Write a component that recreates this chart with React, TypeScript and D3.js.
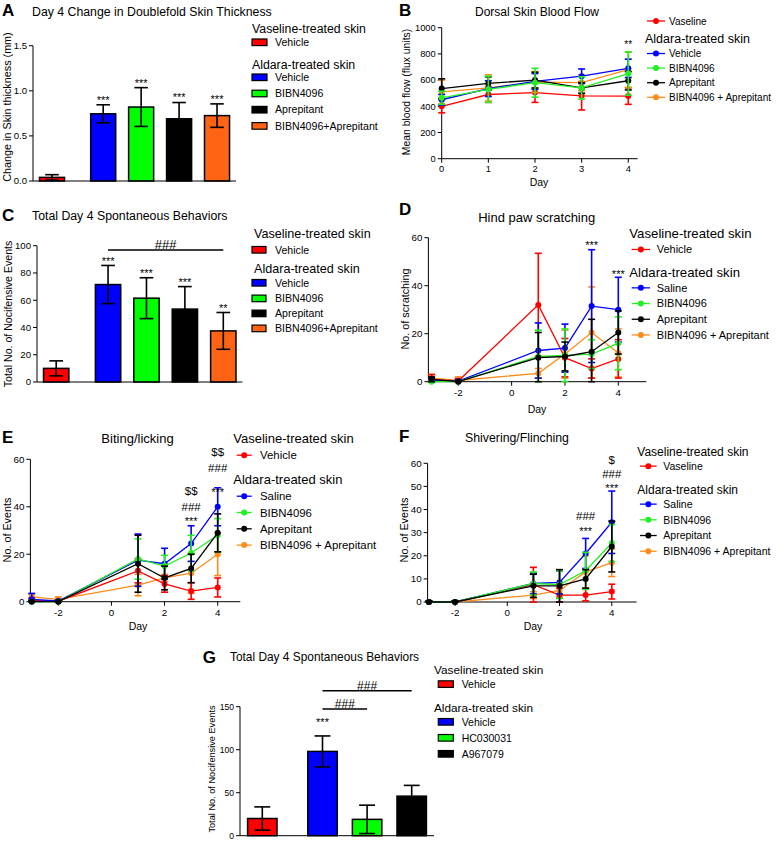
import React from "react";
import * as d3 from "d3";

const FONT = "'Liberation Sans', Arial, Helvetica, sans-serif";

// ---------- colours ----------
const barColors = ["#ff0000", "#0000ff", "#00ff00", "#000000", "#ff6414"];
const lineColors = ["#ff0000", "#0000ff", "#22f022", "#000000", "#ff8c1a"];

// ---------- legend texts ----------
const legendHeaders = ["Vaseline-treated skin", "Aldara-treated skin"];
const legendItemsAC = ["Vehicle", "BIBN4096", "Aprepitant", "BIBN4096+Aprepitant"];
const legendItemsB = ["Vehicle", "BIBN4096", "Aprepitant", "BIBN4096 + Aprepitant"];
const legendItemsDEF = ["Saline", "BIBN4096", "Aprepitant", "BIBN4096 + Aprepitant"];
const legendItemsG = ["Vehicle", "HC030031", "A967079"];

// ---------- Panel A ----------
const thicknessMean = [0.04, 0.745, 0.82, 0.69, 0.725];
const thicknessErr = [0.03, 0.1, 0.215, 0.18, 0.13];
const thicknessSig = ["", "***", "***", "***", "***"];
const ticksA = [0, 0.5, 1.0, 1.5];

// ---------- Panel B ----------
const flowDays = [0, 1, 2, 3, 4];
const flowVaseline = [400, 490, 505, 480, 478];
const flowVaselineErr = [50, 60, 75, 108, 63];
const flowVehicle = [450, 535, 590, 630, 690];
const flowVehicleErr = [40, 60, 60, 55, 70];
const flowBIBN = [465, 530, 580, 540, 650];
const flowBIBNErr = [50, 100, 110, 85, 165];
const flowAprep = [535, 575, 600, 540, 595];
const flowAprepErr = [75, 50, 60, 40, 70];
const flowCombo = [510, 540, 585, 580, 680];
const flowComboErr = [90, 100, 80, 60, 135];
const ticksBy = [0, 200, 400, 600, 800, 1000];
const ticksBx = [0, 1, 2, 3, 4];

// ---------- Panel C ----------
const totalMeanC = [10, 71.5, 61.5, 53.5, 37.5];
const totalErrC = [5.5, 14, 15, 16.5, 13.5];
const totalSigC = ["", "***", "***", "***", "**"];
const ticksC = [0, 20, 40, 60, 80, 100];

// ---------- D / E / F shared ----------
const behaviorDays = [-3, -2, 1, 2, 3, 4];
const ticksDayX = [-2, 0, 2, 4];

// Panel D: hind paw scratching
const scratchVehicle = [1, 0.3, 32, 10, 5.5, 9.5];
const scratchVehicleErr = [2, 1, 21.5, 8, 4, 8];
const scratchSaline = [0.5, 0.2, 13, 14, 31.5, 30];
const scratchSalineErr = [1, 0.5, 11.5, 10, 23.5, 13.5];
const scratchBIBN = [0, 0, 10.5, 11, 11.5, 16];
const scratchBIBNErr = [0.5, 0.3, 11, 11, 6, 11];
const scratchAprep = [1, 0, 10, 10.5, 12.5, 20.5];
const scratchAprepErr = [1, 0.5, 10.5, 6, 13.5, 9];
const scratchCombo = [1.5, 0.5, 3.5, 11.5, 20.5, 12];
const scratchComboErr = [1.5, 1.5, 2, 10, 19, 10];
const ticksD = [0, 20, 40, 60];

// Panel E: biting / licking
const biteVehicle = [0.5, 0.2, 13, 7.5, 4.5, 6];
const biteVehicleErr = [1, 0.5, 5, 3.5, 3.5, 4];
const biteSaline = [1, 0.3, 17.5, 16, 24.5, 40];
const biteSalineErr = [2.5, 0.5, 11, 6.5, 7.5, 8];
const biteBIBN = [0, 0, 18, 15, 20.5, 28];
const biteBIBNErr = [0.5, 0.5, 8.5, 4.5, 7.5, 7];
const biteAprep = [0, 0, 16, 10, 14, 29];
const biteAprepErr = [0.5, 0.5, 12, 5, 6, 8];
const biteCombo = [2, 1, 7, 10, 12, 20];
const biteComboErr = [1, 1, 4.5, 1.5, 8.5, 9];
const ticksE = [0, 20, 40, 60];

// Panel F: shivering / flinching
const shiverVaseline = [0, 0, 7.5, 3, 3, 4.5];
const shiverVaselineErr = [0.5, 0.5, 7.5, 3, 2.5, 3.2];
const shiverSaline = [0, 0, 8, 8.5, 21, 34.5];
const shiverSalineErr = [0.5, 0.5, 4.5, 5, 6.5, 13.5];
const shiverBIBN = [0, 0, 8, 7.5, 13.5, 25.5];
const shiverBIBNErr = [0.5, 0.5, 5, 6, 8, 8];
const shiverAprep = [0, 0, 7, 7, 10, 24];
const shiverAprepErr = [0.5, 0.5, 5, 7, 4, 11];
const shiverCombo = [0, 0, 3, 5, 13, 17];
const shiverComboErr = [0.5, 0.5, 1.5, 3, 7, 6];
const ticksF = [0, 10, 20, 30, 40, 50, 60];

// ---------- Panel G ----------
const totalMeanG = [20, 98, 19, 46];
const totalErrG = [13.5, 18, 16.5, 12.5];
const totalSigG = ["", "***", "", ""];
const ticksG = [0, 50, 100, 150];

// ================= helpers =================
type Note = { day: number; value: number; text: string; fs: number };

function noteBaseline(cy: number, text: string, fs: number) {
  return cy + (text.includes("*") ? 0.58 : 0.36) * fs;
}

function YAxis({ scale, x, ticks, fmt, fontSize }: any) {
  const [r0, r1] = scale.range();
  return (
    <g>
      <line x1={x} x2={x} y1={r0} y2={r1} stroke="#000" strokeWidth={1} />
      {ticks.map((t: number) => (
        <g key={t}>
          <line x1={x - 4} x2={x} y1={scale(t)} y2={scale(t)} stroke="#000" strokeWidth={1} />
          <text x={x - 6} y={scale(t)} dy="0.35em" textAnchor="end" fontSize={fontSize}>
            {fmt(t)}
          </text>
        </g>
      ))}
    </g>
  );
}

function XAxis({ scale, y, ticks, fontSize, labelGap }: any) {
  const [r0, r1] = scale.range();
  return (
    <g>
      <line x1={r0} x2={r1} y1={y} y2={y} stroke="#000" strokeWidth={1} />
      {ticks.map((t: number) => (
        <g key={t}>
          <line x1={scale(t)} x2={scale(t)} y1={y} y2={y + 4} stroke="#000" strokeWidth={1} />
          <text x={scale(t)} y={y + labelGap} textAnchor="middle" fontSize={fontSize}>
            {t}
          </text>
        </g>
      ))}
    </g>
  );
}

function RotLabel({ x, y, text, fs }: any) {
  return (
    <text transform={`translate(${x},${y}) rotate(-90)`} textAnchor="middle" fontSize={fs}>
      {text}
    </text>
  );
}

type Row = { kind: "header" | "item"; label: string; color?: string };

function Legend({ rows, ys, headerX, m0, m1, textX, hf, itf, mark }: any) {
  return (
    <g>
      {rows.map((r: Row, i: number) => {
        const yb = ys[i];
        if (r.kind === "header")
          return (
            <text key={i} x={headerX} y={yb} fontSize={hf}>
              {r.label}
            </text>
          );
        const cy = yb - itf * 0.35;
        return (
          <g key={i}>
            {mark === "box" ? (
              <rect x={m0} y={cy - 3.3} width={m1 - m0} height={6.6} fill={r.color} stroke="#000" strokeWidth={1.2} />
            ) : (
              <g>
                <line x1={m0} x2={m1} y1={cy} y2={cy} stroke={r.color} strokeWidth={1.3} />
                <circle cx={(m0 + m1) / 2} cy={cy} r={3} fill={r.color} />
              </g>
            )}
            <text x={textX} y={yb} fontSize={itf}>
              {r.label}
            </text>
          </g>
        );
      })}
    </g>
  );
}

function makeRows(first: string | null, firstItem: string, items: string[], colors: string[]): Row[] {
  const rows: Row[] = [];
  if (first) rows.push({ kind: "header", label: first });
  rows.push({ kind: "item", label: firstItem, color: colors[0] });
  rows.push({ kind: "header", label: legendHeaders[1] });
  items.forEach((it, i) => rows.push({ kind: "item", label: it, color: colors[i + 1] }));
  return rows;
}

function BarPanel({ means, errs, sigs, colors, x0, x1, yBottom, yTop, yMax, ticks, fmt, tickFont, starGap, sigBars }: any) {
  const gap = 0.35;
  const n = means.length;
  const slot = (i: number) => (i === 0 ? 0 : i + gap);
  const x = d3.scaleLinear().domain([-0.5, n - 1 + gap + 0.5]).range([x0, x1]);
  const y = d3.scaleLinear().domain([0, yMax]).range([yBottom, yTop]);
  const step = x(1) - x(0);
  const bw = step * 0.66;
  const cap = bw * 0.27;
  return (
    <g>
      {means.map((m: number, i: number) => {
        const cx = x(slot(i));
        const hi = y(m + errs[i]);
        const lo = y(Math.max(0, m - errs[i]));
        return (
          <g key={i}>
            <rect x={cx - bw / 2} y={y(m)} width={bw} height={y(0) - y(m)} fill={colors[i]} stroke="#000" strokeWidth={1.5} />
            <line x1={cx} x2={cx} y1={hi} y2={lo} stroke="#000" strokeWidth={1.6} />
            <line x1={cx - cap} x2={cx + cap} y1={hi} y2={hi} stroke="#000" strokeWidth={1.6} />
            <line x1={cx - cap} x2={cx + cap} y1={lo} y2={lo} stroke="#000" strokeWidth={1.6} />
            {sigs[i] && (
              <text x={cx} y={noteBaseline(hi - starGap, sigs[i], 11)} textAnchor="middle" fontSize={11}>
                {sigs[i]}
              </text>
            )}
          </g>
        );
      })}
      {(sigBars || []).map((b: any, k: number) => {
        const xa = x(slot(b.from));
        const xb = x(slot(b.to));
        const yy = y(b.level);
        return (
          <g key={"s" + k}>
            <line x1={xa} x2={xb} y1={yy} y2={yy} stroke="#000" strokeWidth={1.6} />
            <text x={(xa + xb) / 2} y={noteBaseline(yy - b.lift, b.label, b.fs)} textAnchor="middle" fontSize={b.fs}>
              {b.label}
            </text>
          </g>
        );
      })}
      <line x1={x0} x2={x1} y1={y(0)} y2={y(0)} stroke="#000" strokeWidth={1} />
      <YAxis scale={y} x={x0} ticks={ticks} fmt={fmt} fontSize={tickFont} />
    </g>
  );
}

type Series = { color: string; mean: number[]; err: number[] };

function LinePanel({ days, series, order, xDomain, xRange, yMax, yRange, xTicks, yTicks, tickFont, labelGap, notes }: any) {
  const x = d3.scaleLinear().domain(xDomain).range(xRange);
  const y = d3.scaleLinear().domain([0, yMax]).range(yRange);
  const cap = 3.5;
  return (
    <g>
      <XAxis scale={x} y={y(0)} ticks={xTicks} fontSize={tickFont} labelGap={labelGap} />
      <YAxis scale={y} x={xRange[0]} ticks={yTicks} fmt={(t: number) => String(t)} fontSize={tickFont} />
      {order.map((si: number) => {
        const s: Series = series[si];
        const path = d3
          .line<number>()
          .x((_, i) => x(days[i]))
          .y((v) => y(v))(s.mean);
        return (
          <g key={si}>
            <path d={path || ""} fill="none" stroke={s.color} strokeWidth={1.3} />
            {s.mean.map((m, i) => {
              const cx = x(days[i]);
              const hi = y(m + s.err[i]);
              const lo = y(Math.max(0, m - s.err[i]));
              return (
                <g key={i}>
                  <line x1={cx} x2={cx} y1={hi} y2={lo} stroke={s.color} strokeWidth={1.6} />
                  <line x1={cx - cap} x2={cx + cap} y1={hi} y2={hi} stroke={s.color} strokeWidth={1.6} />
                  <line x1={cx - cap} x2={cx + cap} y1={lo} y2={lo} stroke={s.color} strokeWidth={1.6} />
                  <circle cx={cx} cy={y(m)} r={3} fill={s.color} />
                </g>
              );
            })}
          </g>
        );
      })}
      {(notes || []).map((n: Note, k: number) => (
        <text key={k} x={x(n.day)} y={noteBaseline(y(n.value), n.text, n.fs)} textAnchor="middle" fontSize={n.fs}>
          {n.text}
        </text>
      ))}
    </g>
  );
}

function Letter({ x, y, t }: any) {
  return (
    <text x={x} y={y} fontSize={17} fontWeight="bold">
      {t}
    </text>
  );
}

export default function App() {
  const seriesB: Series[] = [
    { color: lineColors[0], mean: flowVaseline, err: flowVaselineErr },
    { color: lineColors[1], mean: flowVehicle, err: flowVehicleErr },
    { color: lineColors[2], mean: flowBIBN, err: flowBIBNErr },
    { color: lineColors[3], mean: flowAprep, err: flowAprepErr },
    { color: lineColors[4], mean: flowCombo, err: flowComboErr },
  ];
  const seriesD: Series[] = [
    { color: lineColors[0], mean: scratchVehicle, err: scratchVehicleErr },
    { color: lineColors[1], mean: scratchSaline, err: scratchSalineErr },
    { color: lineColors[2], mean: scratchBIBN, err: scratchBIBNErr },
    { color: lineColors[3], mean: scratchAprep, err: scratchAprepErr },
    { color: lineColors[4], mean: scratchCombo, err: scratchComboErr },
  ];
  const seriesE: Series[] = [
    { color: lineColors[0], mean: biteVehicle, err: biteVehicleErr },
    { color: lineColors[1], mean: biteSaline, err: biteSalineErr },
    { color: lineColors[2], mean: biteBIBN, err: biteBIBNErr },
    { color: lineColors[3], mean: biteAprep, err: biteAprepErr },
    { color: lineColors[4], mean: biteCombo, err: biteComboErr },
  ];
  const seriesF: Series[] = [
    { color: lineColors[0], mean: shiverVaseline, err: shiverVaselineErr },
    { color: lineColors[1], mean: shiverSaline, err: shiverSalineErr },
    { color: lineColors[2], mean: shiverBIBN, err: shiverBIBNErr },
    { color: lineColors[3], mean: shiverAprep, err: shiverAprepErr },
    { color: lineColors[4], mean: shiverCombo, err: shiverComboErr },
  ];
  const order = [4, 0, 1, 2, 3];

  return (
    <svg
      width={777}
      height={845}
      style={{ position: "absolute", left: 0, top: 0, display: "block", background: "#fff" }}
      fontFamily={FONT}
    >
      <rect width={777} height={845} fill="#fff" />

      {/* ---------- A ---------- */}
      <Letter x={2} y={16} t="A" />
      <text x={32} y={16} fontSize={12.3}>Day 4 Change in Doublefold Skin Thickness</text>
      <RotLabel x={11} y={107} text="Change in Skin thickness (mm)" fs={10.8} />
      <BarPanel
        means={thicknessMean}
        errs={thicknessErr}
        sigs={thicknessSig}
        colors={barColors}
        x0={33}
        x1={236}
        yBottom={181}
        yTop={45.7}
        yMax={1.5}
        ticks={ticksA}
        fmt={d3.format(".1f")}
        tickFont={9.6}
        starGap={7.5}
      />
      <Legend
        rows={makeRows(legendHeaders[0], "Vehicle", legendItemsAC, barColors)}
        ys={[33.3, 46, 69, 81, 97.2, 113.4, 129.6]}
        headerX={252}
        m0={252}
        m1={267}
        textX={275}
        hf={12.3}
        itf={10.6}
        mark="box"
      />

      {/* ---------- B ---------- */}
      <Letter x={399} y={16} t="B" />
      <text x={537} y={16} fontSize={12} textAnchor="middle">Dorsal Skin Blood Flow</text>
      <RotLabel x={409.5} y={92} text="Mean blood flow (flux units)" fs={10.4} />
      <LinePanel
        days={flowDays}
        series={seriesB}
        order={[0, 4, 1, 3, 2]}
        xDomain={[0, 4.2]}
        xRange={[441.7, 637.6]}
        yMax={1000}
        yRange={[158.7, 27.7]}
        xTicks={ticksBx}
        yTicks={ticksBy}
        tickFont={9.3}
        labelGap={13}
        notes={[{ day: 4, value: 893, text: "**", fs: 10 }]}
      />
      <text x={539} y={186} fontSize={10.5} textAnchor="middle">Day</text>
      <Legend
        rows={makeRows(null, "Vaseline", legendItemsB, lineColors)}
        ys={[24.5, 43.3, 57, 71.6, 86.2, 100.8]}
        headerX={645}
        m0={647}
        m1={665}
        textX={669}
        hf={12.5}
        itf={10}
        mark="line"
      />

      {/* ---------- C ---------- */}
      <Letter x={2} y={220.5} t="C" />
      <text x={32} y={220} fontSize={12.3}>Total Day 4 Spontaneous Behaviors</text>
      <RotLabel x={11.5} y={314} text="Total No. of Nocifensive Events" fs={10.6} />
      <BarPanel
        means={totalMeanC}
        errs={totalErrC}
        sigs={totalSigC}
        colors={barColors}
        x0={37}
        x1={242.5}
        yBottom={382}
        yTop={245.7}
        yMax={100}
        ticks={ticksC}
        fmt={(t: number) => String(t)}
        tickFont={9.6}
        starGap={6.7}
        sigBars={[{ from: 1, to: 4, level: 96.8, label: "###", fs: 13, lift: 6 }]}
      />
      <Legend
        rows={makeRows(legendHeaders[0], "Vehicle", legendItemsAC, barColors)}
        ys={[237.7, 253.5, 273.3, 286.5, 302.1, 317.1, 332.1]}
        headerX={254}
        m0={252}
        m1={266}
        textX={275}
        hf={12.6}
        itf={10.6}
        mark="box"
      />

      {/* ---------- D ---------- */}
      <Letter x={399} y={215} t="D" />
      <text x={536.7} y={221.5} fontSize={13} textAnchor="middle">Hind paw scratching</text>
      <RotLabel x={409} y={309} text="No. of scratching" fs={10.8} />
      <LinePanel
        days={behaviorDays}
        series={seriesD}
        order={order}
        xDomain={[-3.12, 5.05]}
        xRange={[428.4, 646.3]}
        yMax={60}
        yRange={[381.7, 237.7]}
        xTicks={ticksDayX}
        yTicks={ticksD}
        tickFont={9.8}
        labelGap={14.3}
        notes={[
          { day: 3, value: 57.9, text: "***", fs: 11 },
          { day: 4, value: 45.8, text: "***", fs: 11 },
        ]}
      />
      <text x={537} y={413} fontSize={10.5} textAnchor="middle">Day</text>
      <Legend
        rows={makeRows(legendHeaders[0], "Vehicle", legendItemsDEF, lineColors)}
        ys={[237.8, 253.3, 276.5, 291.7, 307.4, 323.1, 338.8]}
        headerX={629.3}
        m0={631.7}
        m1={650}
        textX={656.7}
        hf={13.2}
        itf={11}
        mark="line"
      />

      {/* ---------- E ---------- */}
      <Letter x={2} y={443} t="E" />
      <text x={137.5} y={442.7} fontSize={13} textAnchor="middle">Biting/licking</text>
      <RotLabel x={11} y={530} text="No. of Events" fs={10.8} />
      <LinePanel
        days={behaviorDays}
        series={seriesE}
        order={order}
        xDomain={[-3.05, 4.85]}
        xRange={[30.4, 240.3]}
        yMax={60}
        yRange={[601.7, 459.3]}
        xTicks={ticksDayX}
        yTicks={ticksE}
        tickFont={9.8}
        labelGap={14.3}
        notes={[
          { day: 3, value: 35.2, text: "***", fs: 11 },
          { day: 3, value: 40, text: "###", fs: 11.5 },
          { day: 3, value: 46.8, text: "$$", fs: 11.5 },
          { day: 4, value: 47.4, text: "***", fs: 11 },
          { day: 4, value: 56.5, text: "###", fs: 11.5 },
          { day: 4, value: 63, text: "$$", fs: 11.5 },
        ]}
      />
      <text x={138} y={630} fontSize={10.5} textAnchor="middle">Day</text>
      <Legend
        rows={makeRows(legendHeaders[0], "Vehicle", legendItemsDEF, lineColors)}
        ys={[443, 459.2, 483.7, 500.2, 516.5, 532.8, 549.1]}
        headerX={233.3}
        m0={236.7}
        m1={251.7}
        textX={260}
        hf={13}
        itf={11.4}
        mark="line"
      />

      {/* ---------- F ---------- */}
      <Letter x={399} y={442} t="F" />
      <text x={517} y={442.3} fontSize={12.3} textAnchor="middle">Shivering/Flinching</text>
      <RotLabel x={408} y={530} text="No. of Events" fs={10.8} />
      <LinePanel
        days={behaviorDays}
        series={seriesF}
        order={order}
        xDomain={[-3.05, 4.95]}
        xRange={[427.6, 636.6]}
        yMax={60}
        yRange={[602, 463.3]}
        xTicks={ticksDayX}
        yTicks={ticksF}
        tickFont={9.8}
        labelGap={14.3}
        notes={[
          { day: 3, value: 31.9, text: "***", fs: 11 },
          { day: 3, value: 37.2, text: "###", fs: 11.5 },
          { day: 4, value: 50.2, text: "***", fs: 11 },
          { day: 4, value: 55.4, text: "###", fs: 11.5 },
          { day: 4, value: 61.5, text: "$", fs: 11.5 },
        ]}
      />
      <text x={533} y={630} fontSize={10.5} textAnchor="middle">Day</text>
      <Legend
        rows={makeRows(legendHeaders[0], "Vaseline", legendItemsDEF, lineColors)}
        ys={[455.8, 469.8, 493.8, 507.8, 523.5, 539.2, 554.9]}
        headerX={637.3}
        m0={640}
        m1={656.7}
        textX={663.3}
        hf={12}
        itf={10.5}
        mark="line"
      />

      {/* ---------- G ---------- */}
      <Letter x={202.7} y={662.5} t="G" />
      <text x={230} y={661} fontSize={11.9}>Total Day 4 Spontaneous Behaviors</text>
      <RotLabel x={215} y={769} text="Total No. of Nocifensive Events" fs={9.2} />
      <BarPanel
        means={totalMeanG}
        errs={totalErrG}
        sigs={totalSigG}
        colors={barColors}
        x0={240}
        x1={434}
        yBottom={835.7}
        yTop={706.7}
        yMax={150}
        ticks={ticksG}
        fmt={(t: number) => String(t)}
        tickFont={8.6}
        starGap={16}
        sigBars={[
          { from: 1, to: 2, level: 147.3, label: "###", fs: 12, lift: 5 },
          { from: 1, to: 3, level: 168.6, label: "###", fs: 12, lift: 5 },
        ]}
      />
      <Legend
        rows={makeRows(legendHeaders[0], "Vehicle", legendItemsG, barColors)}
        ys={[673.5, 687.8, 711.9, 725.5, 741.5, 757.5]}
        headerX={434}
        m0={438.3}
        m1={453.3}
        textX={461.7}
        hf={11.8}
        itf={10.5}
        mark="box"
      />
    </svg>
  );
}
